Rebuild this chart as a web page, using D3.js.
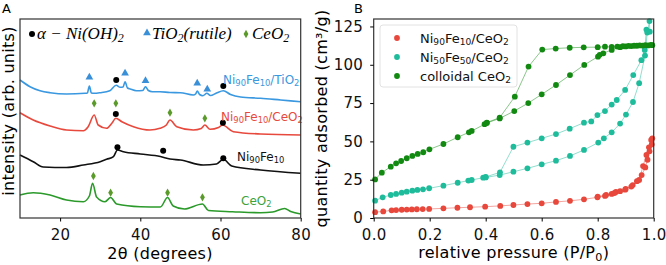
<!DOCTYPE html>
<html lang="en">
<head>
<meta charset="utf-8">
<title>XRD and N2 isotherms</title>
<script src="https://d3js.org/d3.v7.min.js"></script>
<style>
body { margin: 0; background: #fff; }
text { font-family: "DejaVu Sans", sans-serif; }
.serif { font-family: "Liberation Serif", serif; font-style: italic; }
.big { letter-spacing: 0.3px; }
</style>
</head>
<body>
<script>
// ---------- panel A : XRD patterns, [2theta, intensity] ----------
const xrdTiO2 = [[10,138],[12.5,131.3],[15,127.3],[17.5,125.3],[21.6,124],[26.2,124.7],[26.8,125],[27.3,132],[27.8,125],[28.5,124.7],[30,125.3],[32.4,127.3],[34,132.7],[35,130.7],[35.7,131],[36.2,136.3],[36.8,130],[37.5,129],[39,127.3],[40.6,127.5],[41.3,131.3],[42,127.5],[43,126.3],[44.9,126.3],[47.4,125.5],[50,125.3],[53.2,123],[53.8,124],[54.2,127],[54.8,123.5],[55.6,122.3],[56.6,124.7],[57.5,122.5],[59,125],[60.7,127.3],[62.5,123.5],[65,121],[70,119.7],[75,118],[80,116.3]];
const xrdNiCe = [[10,105.3],[13.3,98],[17.5,92],[21.6,88],[25.8,87.3],[27,91.3],[28.5,103],[29.5,93],[31.6,89.7],[32.9,94.7],[33.9,99.7],[35.4,96.3],[38.3,91.3],[42.4,88],[44.9,89.7],[46.5,93],[47.4,98],[49.1,91.3],[53.2,88],[55.2,89.5],[56.1,93],[57.4,88.7],[59.5,90.5],[60.5,93],[63.2,86.3],[70,84],[80,83]];
const xrdNiFe = [[10,63],[13.3,56.3],[15.8,51],[21.6,50.5],[25.8,53],[30,56.3],[31.6,58.7],[33.3,61.3],[34.3,68],[35.8,66.3],[40,64],[45,61.5],[47.4,59],[50,58],[55.7,53],[59,54],[60.7,58.7],[62.8,52],[70,48],[80,44.7]];
const xrdCeO2 = [[10,23],[13.3,25.3],[17.5,23],[21.6,18],[25.8,16.3],[27.3,22],[28.1,34.7],[29.1,21],[31.2,16.3],[32.6,20.5],[34.1,14],[40,11.3],[45,11],[46.8,20.5],[48.2,12],[51,9],[55.5,14],[57,7.5],[63,6.3],[70,5.3],[73,6],[76,9.5],[77.5,6.5],[80,4]];

// reflection markers [2theta, height]
const peaksNiOH = [[34.0,138],[60.7,132],[33.9,104],[60.6,95.3],[34.3,70.7],[45.7,67.3],[60.7,59.7]];
const peaksRutile = [[27.3,140.7],[36.2,144.7],[41.3,137.3],[54.2,134.7],[56.7,128.7]];
const peaksCeO2 = [[28.5,114.7],[33.9,114.7],[47.4,105.3],[56.1,99.7],[28.3,42],[32.6,25.3],[46.8,25.3],[55.5,20.7]];

const xrdNames = ["Ni_90Fe_10/TiO_2", "Ni_90Fe_10/CeO_2", "Ni_90Fe_10", "CeO_2"];
const xrdColors = ["#3a98e0", "#e8493d", "#111111", "#2b9a2b"];
const xrdLabelPos = [[223, 84], [221, 121], [237, 161], [241, 205]];
const xTicksA = [20, 40, 60, 80];

// ---------- panel B : isotherms, [P/P0, quantity] in measurement order ----------
const isoNi90 = [[0.005,3.8],[0.034,4.3],[0.064,5.0],[0.08,5.2],[0.1,5.4],[0.118,5.5],[0.136,5.6],[0.154,5.7],[0.175,5.8],[0.198,5.9],[0.249,6.3],[0.299,6.7],[0.344,7.0],[0.398,7.4],[0.452,7.9],[0.499,8.5],[0.549,9.1],[0.6,9.6],[0.651,10.5],[0.701,11.2],[0.751,12.2],[0.799,13.5],[0.826,14.4],[0.85,15.7],[0.865,17],[0.898,18.5],[0.925,21.5],[0.948,24.8],[0.962,33.9],[0.974,41.1],[0.983,46.1],[0.991,50.9],[0.995,52],
  [0.993,48],[0.985,43.5],[0.978,38],[0.97,33],[0.957,28],[0.94,24],[0.92,20.5],[0.9,19],[0.88,17.5],[0.86,16.3],[0.83,15],[0.8,14]];
const isoNi50 = [[0.005,11.3],[0.032,13.5],[0.061,15],[0.08,15.7],[0.1,16.5],[0.118,17.2],[0.138,17.8],[0.156,18.3],[0.176,18.7],[0.198,19.4],[0.249,21.1],[0.3,23],[0.338,24.4],[0.35,24.8],[0.391,26.3],[0.4,26.5],[0.45,28],[0.499,30.2],[0.549,32.4],[0.6,35],[0.651,37.4],[0.701,40.5],[0.751,44.4],[0.802,49.2],[0.822,52],[0.85,55.9],[0.88,61.6],[0.901,67.5],[0.926,75.7],[0.948,88],[0.969,106],[0.977,121],[0.985,128.5],
  [0.986,121.6],[0.974,123],[0.968,109.7],[0.956,103],[0.927,93.3],[0.898,83.6],[0.868,77],[0.85,74],[0.826,69.8],[0.799,67.2],[0.777,63],[0.751,62.2],[0.7,58.3],[0.651,54.8],[0.6,52],[0.549,49.2],[0.499,46.5],[0.451,29.8],[0.4,26.8]];
const isoCeO2 = [[0.005,25.2],[0.029,29.6],[0.061,33.5],[0.08,35.7],[0.098,37.2],[0.118,39],[0.138,40.5],[0.157,41.8],[0.177,42.9],[0.199,44.8],[0.249,48.3],[0.3,52.7],[0.34,55.9],[0.35,56.8],[0.396,61.2],[0.404,62],[0.45,65],[0.502,69.8],[0.552,75],[0.6,80.7],[0.651,86.8],[0.701,93.3],[0.752,99.9],[0.801,105.3],[0.807,106.5],[0.82,107.5],[0.85,109.7],[0.88,111.5],[0.9,112],[0.92,112.2],[0.94,112.4],[0.96,112.5],[0.98,112.6],[0.995,112.8],
  [0.99,113],[0.97,112.8],[0.95,112.6],[0.93,112.4],[0.91,112.3],[0.89,112.1],[0.87,111.9],[0.85,111.6],[0.826,111.8],[0.8,111.5],[0.75,111.4],[0.7,111.1],[0.65,110.6],[0.602,109.9],[0.553,98.8],[0.504,79.2],[0.45,65.5],[0.404,62.3]];
const isoNames = ["Ni_90Fe_10/CeO_2", "Ni_50Fe_50/CeO_2", "colloidal CeO_2"];
const isoColors = ["#e8473c", "#1fbc9c", "#128a12"];
const xTicksB = [0, 0.2, 0.4, 0.6, 0.8, 1.0];
const yTicksB = [0, 25, 50, 75, 100, 125];

const W = 666, H = 265;
const FS = 16, TS = 15;
const svg = d3.select("body").append("svg").attr("width", W).attr("height", H);

// writes "Ni_90Fe_10" style strings as text with subscript tspans
function subText(sel, str, size) {
  const parts = str.split(/(_\d+)/).filter(s => s.length);
  parts.forEach((p, i) => {
    if (p[0] === "_") {
      sel.append("tspan").attr("font-size", size * 0.7).attr("dy", size * 0.2).text(p.slice(1));
    } else {
      const t = sel.append("tspan").text(p);
      if (i > 0 && parts[i - 1][0] === "_") t.attr("dy", -size * 0.2);
    }
  });
}

// ===== panel A =====
const xA = d3.scaleLinear([10, 80], [20, 300.7]);
const yA = d3.scaleLinear([0, 199], [218, 19]);
const gA = svg.append("g");

const lineA = d3.line().x(d => xA(d[0])).y(d => yA(d[1])).curve(d3.curveMonotoneX);
[xrdTiO2, xrdNiCe, xrdNiFe, xrdCeO2].forEach((s, i) => {
  gA.append("path").attr("d", lineA(s)).attr("fill", "none")
    .attr("stroke", xrdColors[i]).attr("stroke-width", 1.6);
});

gA.selectAll("circle.niOH").data(peaksNiOH).join("circle")
  .attr("cx", d => xA(d[0])).attr("cy", d => yA(d[1])).attr("r", 3).attr("fill", "#000");
const tri = d3.symbol(d3.symbolTriangle, 26);
gA.selectAll("path.rut").data(peaksRutile).join("path")
  .attr("d", tri).attr("transform", d => `translate(${xA(d[0])},${yA(d[1])})`).attr("fill", "#3a8fd9");
const dia = d3.symbol(d3.symbolDiamond, 20);
gA.selectAll("path.ce").data(peaksCeO2).join("path")
  .attr("d", dia).attr("transform", d => `translate(${xA(d[0])},${yA(d[1])})`).attr("fill", "#5a9a2a");

xrdNames.forEach((n, i) => {
  const t = gA.append("text").attr("x", xrdLabelPos[i][0]).attr("y", xrdLabelPos[i][1])
    .attr("font-size", 12).attr("fill", i === 3 ? "#3ca33c" : xrdColors[i]);
  subText(t, n, 12);
});

// legend of reflections
gA.append("circle").attr("cx", 32).attr("cy", 34).attr("r", 3).attr("fill", "#000");
gA.append("path").attr("d", tri).attr("transform", "translate(147,33)").attr("fill", "#3a8fd9");
gA.append("path").attr("d", dia).attr("transform", "translate(246,34)").attr("fill", "#5a9a2a");
const lgA = [[37, "α − Ni(OH)_2"], [152, "TiO_2(rutile)"], [252, "CeO_2"]];
lgA.forEach(d => {
  const t = gA.append("text").attr("class", "serif").attr("x", d[0]).attr("y", 39).attr("font-size", 17);
  subText(t, d[1], 17);
});

gA.append("rect").attr("x", 20).attr("y", 19).attr("width", 280.7).attr("height", 199)
  .attr("fill", "none").attr("stroke", "#333").attr("stroke-width", 1.2);
const axA = gA.append("g").attr("transform", "translate(0,218)")
  .call(d3.axisBottom(xA).tickValues(xTicksA).tickSize(3.5).tickPadding(8));
axA.select(".domain").remove();
axA.selectAll("text").attr("font-size", TS).attr("class", "big").attr("font-family", "DejaVu Sans").attr("fill", "#111");

gA.append("text").attr("class", "big").attr("x", 160).attr("y", 259).attr("text-anchor", "middle").attr("font-size", FS)
  .text("2θ (degrees)");
gA.append("text").attr("class", "big").attr("transform", "translate(13.5,111) rotate(-90)").attr("text-anchor", "middle")
  .attr("font-size", FS).text("intensity (arb. units)");
gA.append("text").attr("x", 2).attr("y", 13).attr("font-size", 13).text("A");

// ===== panel B =====
const xB = d3.scaleLinear([0, 1], [373.7, 653.7]);
const yB = d3.scaleLinear([0, 130], [218, 18.8]);
const gB = svg.append("g");

const lineB = d3.line().x(d => xB(d[0])).y(d => yB(d[1]));
[isoNi90, isoNi50, isoCeO2].forEach((s, i) => {
  gB.append("path").attr("d", lineB(s)).attr("fill", "none")
    .attr("stroke", isoColors[i]).attr("stroke-opacity", 0.55).attr("stroke-width", 0.9);
  gB.append("g").selectAll("circle").data(s).join("circle")
    .attr("cx", d => xB(d[0])).attr("cy", d => yB(d[1])).attr("r", 2.9).attr("fill", isoColors[i]);
});

gB.append("rect").attr("x", 373.7).attr("y", 19).attr("width", 280).attr("height", 199)
  .attr("fill", "none").attr("stroke", "#333").attr("stroke-width", 1.2);
const axBx = gB.append("g").attr("transform", "translate(0,218)")
  .call(d3.axisBottom(xB).tickValues(xTicksB).tickFormat(d3.format(".1f")).tickSize(3.5).tickPadding(8));
const axBy = gB.append("g").attr("transform", "translate(373.7,0)")
  .call(d3.axisLeft(yB).tickValues(yTicksB).tickSize(3.5).tickPadding(7));
[axBx, axBy].forEach(a => {
  a.select(".domain").remove();
  a.selectAll("text").attr("font-size", TS).attr("class", "big").attr("font-family", "DejaVu Sans").attr("fill", "#111");
});

// legend
gB.append("rect").attr("x", 380).attr("y", 25).attr("width", 137).attr("height", 62).attr("rx", 3)
  .attr("fill", "#fff").attr("fill-opacity", 0.8).attr("stroke", "#e2e2e2");
isoNames.forEach((n, i) => {
  const y = 38 + i * 19;
  gB.append("circle").attr("cx", 397).attr("cy", y).attr("r", 2.9).attr("fill", isoColors[i]);
  const t = gB.append("text").attr("x", 420).attr("y", y + 4.5).attr("font-size", 13).attr("fill", "#111");
  subText(t, n, 13);
});

const xl = gB.append("text").attr("class", "big").attr("x", 513.7).attr("y", 258).attr("text-anchor", "middle").attr("font-size", FS);
subText(xl, "relative pressure (P/P_0)", FS);
gB.append("text").attr("class", "big").attr("transform", "translate(327,118.5) rotate(-90)").attr("text-anchor", "middle")
  .attr("font-size", FS).text("quantity adsorbed (cm³/g)");
gB.append("text").attr("x", 354).attr("y", 13).attr("font-size", 13).text("B");
</script>
</body>
</html>
